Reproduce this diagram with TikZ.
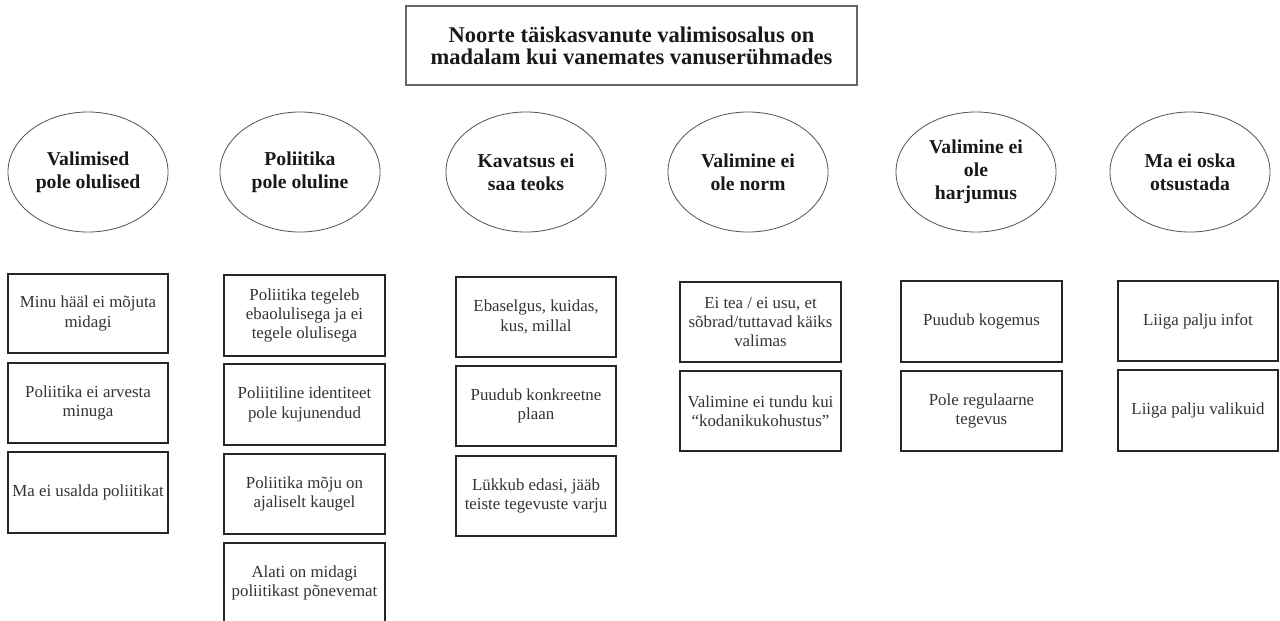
\documentclass[tikz,border=0pt]{standalone}
\usepackage{fontspec}
\setmainfont{Liberation Serif}
\usetikzlibrary{fit,shapes.geometric}

\tikzset{
  box/.style={draw=black!85, line width=1.3pt, inner sep=0pt},
  oval/.style={ellipse, draw=black!65, line width=0.6pt, minimum width=4cm, minimum height=3cm, inner sep=0pt},
  topbox/.style={draw=black!60, line width=1pt, inner sep=0pt},
  boxtext/.style={align=center, text=black!80, font=\fontsize{12}{13.7}\selectfont},
  ovaltext/.style={align=center, text=black!90, font=\bfseries\fontsize{14}{16.2}\selectfont},
  toptext/.style={align=center, text=black!90, font=\bfseries\fontsize{16}{15.6}\selectfont},
}

\begin{document}
\begin{tikzpicture}[x=0.025cm, y=-0.025cm]
    \useasboundingbox (0,0) rectangle (1280,620);

    \node[topbox, fit={(406,6) (857,85)}, label={[toptext]center:{Noorte täiskasvanute valimisosalus on\\madalam kui vanemates vanuserühmades}}] (top) {};

    \node[oval, label={[ovaltext]center:{Valimised\\pole olulised}}] (olulised) at (88,172) {};
    \node[oval, label={[ovaltext]center:{Poliitika\\pole oluline}}] (poliitika) at (300,172) {};
    \node[oval, label={[ovaltext]center:{Kavatsus ei\\saa teoks}}] (kavatsus) at (526,172) {};
    \node[oval, label={[ovaltext]center:{Valimine ei\\ole norm}}] (norm) at (748,172) {};
    \node[oval, label={[ovaltext]center:{Valimine ei\\ole\\harjumus}}] (harjumus) at (976,172) {};
    \node[oval, label={[ovaltext]center:{Ma ei oska\\otsustada}}] (otsustada) at (1190,172) {};

    \node[box, fit={(8,274) (168,353)}, label={[boxtext]center:{Minu hääl ei mõjuta\\midagi}}] (ol1) {};
    \node[box, fit={(8,363) (168,443)}, label={[boxtext]center:{Poliitika ei arvesta\\minuga}}] (ol2) {};
    \node[box, fit={(8,452) (168,533)}, label={[boxtext]center:{Ma ei usalda poliitikat}}] (ol3) {};

    \node[box, fit={(224,275) (385,356)}, label={[boxtext]center:{Poliitika tegeleb\\ebaolulisega ja ei\\tegele olulisega}}] (po1) {};
    \node[box, fit={(224,364) (385,445)}, label={[boxtext]center:{Poliitiline identiteet\\pole kujunendud}}] (po2) {};
    \node[box, fit={(224,454) (385,534)}, label={[boxtext]center:{Poliitika mõju on\\ajaliselt kaugel}}] (po3) {};
    \node[box, fit={(224,543) (385,623)}, label={[boxtext]center:{Alati on midagi\\poliitikast põnevemat}}] (po4) {};

    \node[box, fit={(456,277) (616,357)}, label={[boxtext]center:{Ebaselgus, kuidas,\\kus, millal}}] (ka1) {};
    \node[box, fit={(456,366) (616,446)}, label={[boxtext]center:{Puudub konkreetne\\plaan}}] (ka2) {};
    \node[box, fit={(456,456) (616,536)}, label={[boxtext]center:{Lükkub edasi, jääb\\teiste tegevuste varju}}] (ka3) {};

    \node[box, fit={(680,282) (841,362)}, label={[boxtext]center:{Ei tea / ei usu, et\\sõbrad/tuttavad käiks\\valimas}}] (no1) {};
    \node[box, fit={(680,371) (841,451)}, label={[boxtext]center:{Valimine ei tundu kui\\“kodanikukohustus”}}] (no2) {};

    \node[box, fit={(901,281) (1062,362)}, label={[boxtext]center:{Puudub kogemus}}] (ha1) {};
    \node[box, fit={(901,371) (1062,451)}, label={[boxtext]center:{Pole regulaarne\\tegevus}}] (ha2) {};

    \node[box, fit={(1118,281) (1278,361)}, label={[boxtext]center:{Liiga palju infot}}] (ot1) {};
    \node[box, fit={(1118,370) (1278,451)}, label={[boxtext]center:{Liiga palju valikuid}}] (ot2) {};
\end{tikzpicture}
\end{document}
